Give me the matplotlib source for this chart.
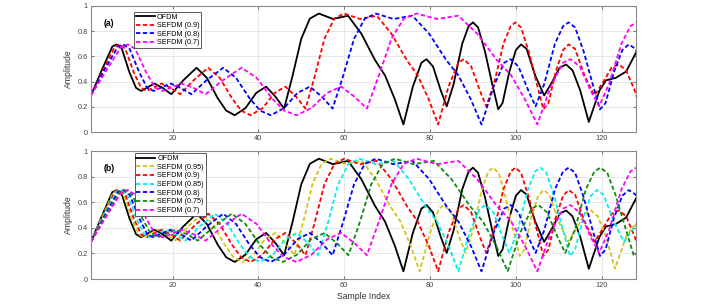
import matplotlib
matplotlib.use("Agg")
import matplotlib.pyplot as plt

plt.rcParams['font.family'] = ['Liberation Sans', 'DejaVu Sans']

# amplitude values read at the knots of each curve (same envelope for every series)
amp = [0.29, 0.49, 0.68, 0.695, 0.66, 0.47, 0.35, 0.326, 0.355, 0.385,
       0.35, 0.30, 0.41, 0.51, 0.43, 0.27, 0.17, 0.133, 0.19, 0.31,
       0.36, 0.28, 0.186, 0.45, 0.74, 0.90, 0.94, 0.897, 0.923, 0.78,
       0.57, 0.45, 0.26, 0.06, 0.36, 0.55, 0.578, 0.52, 0.33, 0.204,
       0.38, 0.70, 0.84, 0.87, 0.83, 0.64, 0.38, 0.18, 0.23, 0.48,
       0.65, 0.695, 0.66, 0.45, 0.29, 0.40, 0.51, 0.536, 0.49, 0.33,
       0.08, 0.33, 0.41, 0.43, 0.48, 0.63]

# sample index positions of those knots, one list per curve
ofdm_x = [1, 3.5, 6, 7, 8.2, 10, 11.5, 12.7, 14.2, 15.8, 17.7, 19.7, 22.5, 25.6, 28,
          30.5, 32.5, 34.5, 37, 39.5, 41.8, 44, 46, 48, 50, 52, 54.1, 57.4, 60.9, 64,
          67.2, 69.5, 71.8, 73.8, 76, 78, 79.2, 80.7, 82.5, 83.9, 85.5, 87.5, 89, 90,
          91.2, 92.8, 94.5, 95.9, 96.9, 98.5, 100, 101.2, 102.5, 104.5, 106.6, 108.5,
          110.2, 111.7, 113.2, 115, 117, 119.5, 121, 123.3, 125.7, 128]
s095_x = [1, 3.6, 6.3, 7.3, 8.6, 10.5, 12.1, 13.3, 14.9, 16.6, 18.6, 20.7, 23.6, 26.9,
          29.4, 32.1, 34.2, 36.3, 38.9, 41.5, 44.0, 46.3, 48.4, 50.5, 52.6, 54.7, 56.9,
          60.4, 64.1, 67.3, 70.7, 73.1, 75.5, 77.6, 80.0, 82.1, 83.3, 84.9, 86.8, 88.3,
          90.0, 92.1, 93.6, 94.7, 96.0, 97.6, 99.4, 100.9, 102.0, 103.6, 105.2, 106.5,
          107.8, 110.0, 112.2, 114.2, 116.0, 117.5, 119.1, 121.0, 123.1, 125.7, 127.3, 129.7]
s090_x = [1, 3.8, 6.6, 7.7, 9.0, 11.0, 12.7, 14.0, 15.7, 17.4, 19.6, 21.8, 24.9, 28.3,
          31.0, 33.8, 36.0, 38.2, 41.0, 43.8, 46.3, 48.8, 51.0, 53.2, 55.4, 57.7, 60.0,
          63.7, 67.6, 71.0, 74.6, 77.1, 79.7, 81.9, 84.3, 86.6, 87.9, 89.6, 91.6, 93.1,
          94.9, 97.1, 98.8, 99.9, 101.2, 103.0, 104.9, 106.4, 107.6, 109.3, 111.0, 112.3,
          113.8, 116.0, 118.3, 120.4, 122.3, 124.0, 125.7, 127.7, 129.9]
s085_x = [1, 3.9, 6.9, 8.1, 9.5, 11.6, 13.4, 14.8, 16.5, 18.4, 20.6, 23.0, 26.3, 29.9,
          32.8, 35.7, 38.1, 40.4, 43.4, 46.3, 49.0, 51.6, 53.9, 56.3, 58.6, 61.0, 63.5,
          67.4, 71.5, 75.1, 78.9, 81.6, 84.3, 86.6, 89.2, 91.6, 93.0, 94.8, 96.9, 98.5,
          100.4, 102.8, 104.5, 105.7, 107.1, 109.0, 111.0, 112.6, 113.8, 115.7, 117.5,
          118.9, 120.4, 122.8, 125.2, 127.5, 129.5]
s080_x = [1, 4.1, 7.3, 8.5, 10.0, 12.3, 14.1, 15.6, 17.5, 19.5, 21.9, 24.4, 27.9, 31.8,
          34.8, 37.9, 40.4, 42.9, 46.0, 49.1, 52.0, 54.8, 57.3, 59.8, 62.3, 64.8, 67.4,
          71.5, 75.9, 79.8, 83.8, 86.6, 89.5, 92.0, 94.8, 97.3, 98.8, 100.6, 102.9, 104.6,
          106.6, 109.1, 111.0, 112.3, 113.8, 115.8, 117.9, 119.6, 120.9, 122.9, 124.8,
          126.3, 127.9, 130.4]
s075_x = [1, 4.3, 7.7, 9.0, 10.6, 13.0, 15.0, 16.6, 18.6, 20.7, 23.3, 25.9, 29.7, 33.8,
          37.0, 40.3, 43.0, 45.7, 49.0, 52.3, 55.4, 58.3, 61.0, 63.7, 66.3, 69.0, 71.8,
          76.2, 80.9, 85.0, 89.3, 92.3, 95.4, 98.1, 101.0, 103.7, 105.3, 107.3, 109.7,
          111.5, 113.7, 116.3, 118.3, 119.7, 121.3, 123.4, 125.7, 127.5, 128.9]
s070_x = [1, 4.6, 8.1, 9.6, 11.3, 13.9, 16.0, 17.7, 19.9, 22.1, 24.9, 27.7, 31.7, 36.1,
          39.6, 43.1, 46.0, 48.9, 52.4, 56.0, 59.3, 62.4, 65.3, 68.1, 71.0, 73.9, 76.9,
          81.6, 86.6, 91.0, 95.6, 98.9, 102.1, 105.0, 108.1, 111.0, 112.7, 114.9, 117.4,
          119.4, 121.7, 124.6, 126.7, 128.1]

series_a = [('SEFDM (0.9)', s090_x, '#ff0000'),
            ('SEFDM (0.8)', s080_x, '#0000ff'),
            ('SEFDM (0.7)', s070_x, '#ff00ff')]
series_b = [('SEFDM (0.95)', s095_x, '#d2c41a'),
            ('SEFDM (0.9)', s090_x, '#ff0000'),
            ('SEFDM (0.85)', s085_x, '#00f0f0'),
            ('SEFDM (0.8)', s080_x, '#0000ff'),
            ('SEFDM (0.75)', s075_x, '#108a10'),
            ('SEFDM (0.7)', s070_x, '#ff00ff')]

fig = plt.figure(figsize=(7.02, 3.06), dpi=100)
ax_a = fig.add_axes([0.1296, 0.5686, 0.7764, 0.4118])
ax_b = fig.add_axes([0.1296, 0.0882, 0.7764, 0.4183])


def draw_panel(ax, series, tag, anchor):
    ax.plot(ofdm_x, amp[:len(ofdm_x)], color='black', lw=1.3, label='OFDM')
    for name, xs, col in series:
        ax.plot(xs, amp[:len(xs)], color=col, lw=1.3, dashes=(2.4, 1.4), label=name)
    ax.set_xlim(1, 128)
    ax.set_ylim(0, 1)
    ax.set_xticks([20, 40, 60, 80, 100, 120])
    ax.set_yticks([0, 0.2, 0.4, 0.6, 0.8, 1])
    ax.set_yticklabels(['0', '0.2', '0.4', '0.6', '0.8', '1'])
    ax.grid(True, color='#e4e4e4', lw=0.6)
    ax.set_axisbelow(True)
    ax.tick_params(direction='in', length=2.5, width=0.5, labelsize=5.3,
                   colors='#404040', pad=2.5, top=True, right=True)
    for sp in ax.spines.values():
        sp.set_color('#8a8a8a')
        sp.set_linewidth(0.8)
    ax.set_ylabel('Amplitude', fontsize=6.2, color='#333333', labelpad=3)
    ax.text(0.024, 0.86, tag, transform=ax.transAxes, fontsize=6.2,
            fontweight='bold', va='center')
    leg = ax.legend(loc='upper left', bbox_to_anchor=anchor, borderaxespad=0,
                    fontsize=5.2, handlelength=2.6, handletextpad=0.3,
                    labelspacing=0.22, borderpad=0.25, fancybox=False,
                    framealpha=1, edgecolor='#404040')
    leg.get_frame().set_linewidth(0.6)


draw_panel(ax_a, series_a, '(a)', (0.079, 0.955))
draw_panel(ax_b, series_b, '(b)', (0.080, 0.982))
ax_b.set_xlabel('Sample Index', fontsize=6.2, color='#333333', labelpad=2)

fig.savefig('out.png', dpi=100)
